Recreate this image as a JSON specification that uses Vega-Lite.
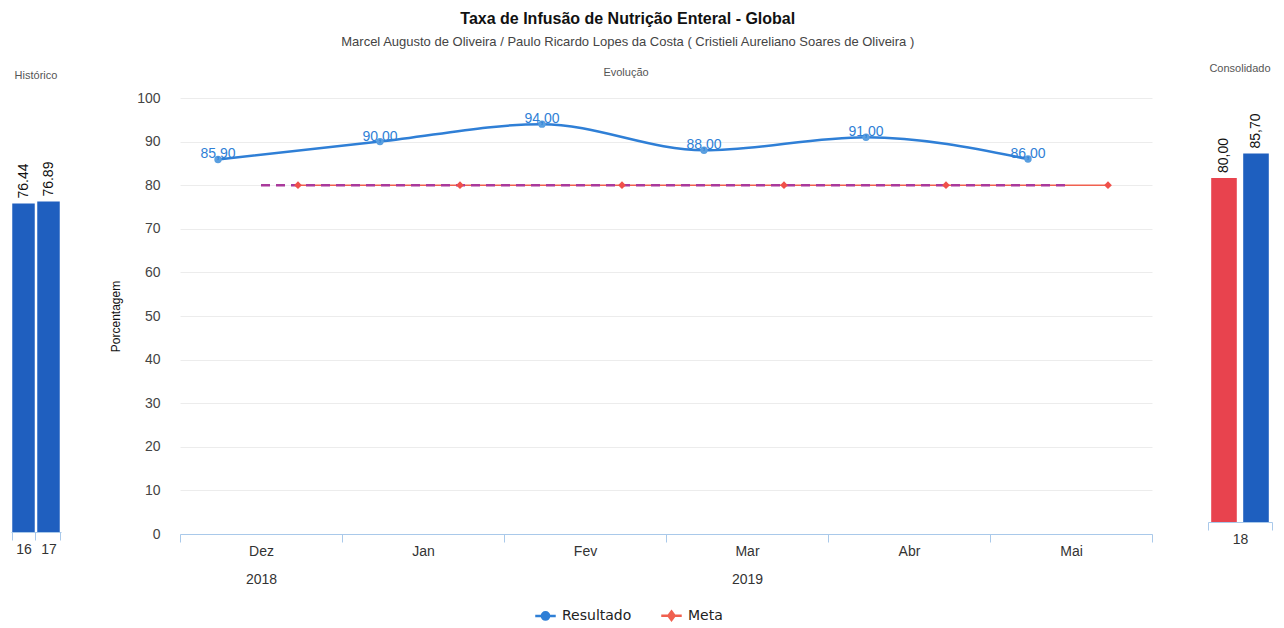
{
  "$schema": "https://vega.github.io/schema/vega-lite/v6.json",
  "padding": {"left": 11, "top": 11, "right": 8, "bottom": 6},
  "background": "white",
  "config": {
    "font": "Liberation Sans",
    "view": {"stroke": null},
    "locale": {"number": {"decimal": ",", "thousands": ".", "grouping": [3], "currency": ["R$", ""]}}
  },
  "title": {
    "text": "Taxa de Infusão de Nutrição Enteral - Global",
    "subtitle": "Marcel Augusto de Oliveira / Paulo Ricardo Lopes da Costa ( Cristieli Aureliano Soares de Oliveira )",
    "anchor": "middle",
    "fontSize": 16,
    "fontWeight": "bold",
    "color": "#111111",
    "subtitleFontSize": 13,
    "subtitleColor": "#444444",
    "subtitlePadding": 9,
    "offset": 14,
    "dx": -14
  },
  "datasets": {
    "historico": [
      {"ano": "16", "valor": 76.44},
      {"ano": "17", "valor": 76.89}
    ],
    "evolucao": [
      {"mes": "Dez", "serie": "Resultado", "valor": 85.9},
      {"mes": "Jan", "serie": "Resultado", "valor": 90.0},
      {"mes": "Fev", "serie": "Resultado", "valor": 94.0},
      {"mes": "Mar", "serie": "Resultado", "valor": 88.0},
      {"mes": "Abr", "serie": "Resultado", "valor": 91.0},
      {"mes": "Mai", "serie": "Resultado", "valor": 86.0},
      {"mes": "Dez", "serie": "Meta", "valor": 80.0},
      {"mes": "Jan", "serie": "Meta", "valor": 80.0},
      {"mes": "Fev", "serie": "Meta", "valor": 80.0},
      {"mes": "Mar", "serie": "Meta", "valor": 80.0},
      {"mes": "Abr", "serie": "Meta", "valor": 80.0},
      {"mes": "Mai", "serie": "Meta", "valor": 80.0}
    ],
    "consolidado": [
      {"ano": "18", "serie": "Meta", "valor": 80.0},
      {"ano": "18", "serie": "Resultado", "valor": 85.7}
    ]
  },
  "bounds": "flush",
  "spacing": 119,
  "resolve": {"scale": {"color": "independent", "x": "independent", "y": "independent"}, "legend": {"color": "independent"}},
  "hconcat": [
    {
      "title": {"text": "Histórico", "fontSize": 11, "color": "#555555", "fontWeight": "normal", "offset": 17},
      "width": 50,
      "height": 434,
      "data": {"name": "historico"},
      "transform": [{"calculate": "toString(datum.valor)", "as": "rotulo"}],
      "encoding": {
        "x": {
          "field": "ano", "type": "nominal",
          "scale": {"type": "band", "paddingInner": 0.1, "paddingOuter": 0.05},
          "axis": {"title": null, "labelAngle": 0, "tickBand": "extent", "domainColor": "#a9c9ea", "tickColor": "#a9c9ea", "tickSize": 8, "labelFontSize": 14, "labelColor": "#333333", "labelPadding": 2}
        },
        "y": {"field": "valor", "type": "quantitative", "scale": {"domain": [0, 101]}, "axis": null}
      },
      "layer": [
        {"mark": {"type": "bar", "color": "#1f5fbf"}},
        {"mark": {"type": "text", "angle": 270, "align": "left", "baseline": "middle", "dx": 5, "fontSize": 14, "color": "#111111"}, "encoding": {"text": {"field": "rotulo"}}}
      ]
    },
    {
      "bounds": "flush",
      "spacing": 56,
      "resolve": {"scale": {"color": "independent", "x": "independent", "y": "independent"}, "legend": {"color": "independent"}},
      "hconcat": [
        {
          "title": {"text": "Evolução", "fontSize": 11, "color": "#555555", "fontWeight": "normal", "offset": 13, "dx": -40},
          "width": 972,
          "height": 436,
          "data": {"name": "evolucao"},
          "encoding": {
            "x": {
              "field": "mes", "type": "nominal",
              "sort": ["Dez", "Jan", "Fev", "Mar", "Abr", "Mai"],
              "scale": {"type": "band", "paddingInner": 0, "paddingOuter": 0},
              "axis": {"title": null, "labelAngle": 0, "tickBand": "extent", "domainColor": "#a9c9ea", "tickColor": "#a9c9ea", "tickSize": 8, "labelFontSize": 14, "labelColor": "#333333", "labelPadding": 2, "labelLineHeight": 28,
                "labelExpr": "datum.label === 'Dez' ? ['Dez', '2018'] : (datum.label === 'Mar' ? ['Mar', '2019'] : datum.label)"}
            },
            "y": {
              "field": "valor", "type": "quantitative",
              "scale": {"domain": [0, 100]},
              "axis": {"title": "Porcentagem", "titleFontSize": 12, "titleFontWeight": "normal", "titleColor": "#111111", "titlePadding": 14,
                "values": [0, 10, 20, 30, 40, 50, 60, 70, 80, 90, 100], "labelFontSize": 14, "labelColor": "#444444", "labelPadding": 20,
                "domain": false, "ticks": false, "grid": true, "gridColor": "#ececec"}
            }
          },
          "layer": [
            {
              "transform": [{"filter": "datum.serie === 'Meta'"}],
              "mark": {"type": "line", "strokeWidth": 1.5, "xOffset": 37},
              "encoding": {
                "color": {
                  "field": "serie", "type": "nominal",
                  "scale": {"domain": ["Resultado", "Meta"], "range": ["#2f7fd6", "#f0604f"]},
                  "legend": {
                    "orient": "none", "legendX": 354, "legendY": 506, "direction": "horizontal", "title": null,
                    "labelFont": "DejaVu Sans", "labelFontSize": 14, "labelColor": "#222222", "symbolSize": 420, "symbolStrokeWidth": 2.5, "columnPadding": 24, "labelOffset": 5,
                    "encode": {"symbols": {"update": {
                      "shape": {"signal": "datum.value === 'Resultado' ? 'M-1,0L1,0M0.35,0A0.35,0.35,0,1,1,-0.35,0A0.35,0.35,0,1,1,0.35,0Z' : 'M-1,0L1,0M0,-0.4L0.3,0L0,0.4L-0.3,0Z'"},
                      "fill": {"signal": "datum.value === 'Resultado' ? '#2f7fd6' : '#f0604f'"},
                      "stroke": {"signal": "datum.value === 'Resultado' ? '#2f7fd6' : '#f0604f'"},
                      "opacity": {"value": 1}
                    }}}
                  }
                }
              }
            },
            {
              "transform": [{"filter": "datum.serie === 'Meta'"}],
              "mark": {"type": "line", "strokeWidth": 2.5, "color": "#a93a9c", "strokeDash": [9, 6]},
              "encoding": {}
            },
            {
              "transform": [{"filter": "datum.serie === 'Meta'"}],
              "mark": {"type": "point", "shape": "diamond", "filled": true, "size": 60, "opacity": 1, "color": "#f0504a", "xOffset": 37},
              "encoding": {}
            },
            {
              "transform": [{"filter": "datum.serie === 'Resultado'"}],
              "mark": {"type": "line", "strokeWidth": 2.5, "interpolate": "monotone", "xOffset": -43},
              "encoding": {
                "color": {"field": "serie", "type": "nominal", "scale": {"domain": ["Resultado", "Meta"], "range": ["#2f7fd6", "#f0604f"]}}
              }
            },
            {
              "transform": [{"filter": "datum.serie === 'Resultado'"}],
              "mark": {"type": "point", "shape": "circle", "filled": true, "size": 55, "opacity": 1, "color": "#5a9fe0", "xOffset": -43},
              "encoding": {}
            },
            {
              "transform": [{"filter": "datum.serie === 'Resultado'"}],
              "mark": {"type": "text", "xOffset": -43, "dy": -5, "fontSize": 14, "color": "#2f7fd6", "align": "center", "baseline": "middle"},
              "encoding": {"text": {"field": "valor", "type": "quantitative", "format": ".2f"}}
            }
          ]
        },
        {
          "title": {"text": "Consolidado", "fontSize": 11, "color": "#555555", "fontWeight": "normal", "offset": 24},
          "width": 64,
          "height": 424,
          "data": {"name": "consolidado"},
          "encoding": {
            "x": {
              "field": "ano", "type": "nominal",
              "scale": {"type": "band", "paddingInner": 0, "paddingOuter": 0},
              "axis": {"title": null, "labelAngle": 0, "tickBand": "extent", "domainColor": "#a9c9ea", "tickColor": "#a9c9ea", "tickSize": 8, "labelFontSize": 14, "labelColor": "#333333", "labelPadding": 2}
            },
            "xOffset": {"field": "serie", "type": "nominal", "scale": {"domain": ["Meta", "Resultado"], "paddingInner": 0.2, "paddingOuter": 0.1}},
            "y": {"field": "valor", "type": "quantitative", "scale": {"domain": [0, 98.6]}, "axis": null}
          },
          "layer": [
            {
              "mark": {"type": "bar"},
              "encoding": {"color": {"field": "serie", "type": "nominal", "scale": {"domain": ["Meta", "Resultado"], "range": ["#e8434e", "#1e5fbf"]}, "legend": null}}
            },
            {
              "mark": {"type": "text", "angle": 270, "align": "left", "baseline": "middle", "dx": 5, "fontSize": 14, "color": "#111111"},
              "encoding": {"text": {"field": "valor", "type": "quantitative", "format": ".2f"}}
            }
          ]
        }
      ]
    }
  ]
}
